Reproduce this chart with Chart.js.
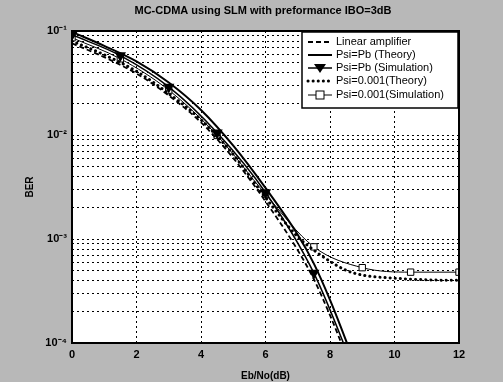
<!DOCTYPE html>
<html>
<head>
<meta charset="utf-8">
<script src="https://cdn.jsdelivr.net/npm/chart.js@4"></script>
<style>
    html, body { margin: 0; padding: 0; background: #b8b8b8; }
    #wrap { width: 503px; height: 382px; background: #b8b8b8; }
    canvas { background: #b8b8b8; }
</style>
</head>
<body>
<div id="wrap"><canvas id="berChart" width="503" height="382"></canvas></div>
<script>
const chartTitle = 'MC-CDMA using SLM with preformance IBO=3dB';
const seriesLabels = [
    'Linear amplifier', 'Psi=Pb (Theory)', 'Psi=Pb (Simulation)',
    'Psi=0.001(Theory)', 'Psi=0.001(Simulation)'
];

// Eb/No (dB) positions
const ebnoTheory = [0, 1, 2, 3, 4, 5, 6, 7, 7.5, 8, 8.5, 9];
const ebnoTheoryLong = [0, 1, 2, 3, 4, 5, 6, 7, 7.5, 8, 8.5, 9, 10, 11, 12];
const ebnoSimPb = [0, 1.5, 3, 4.5, 6, 7.5, 9];
const ebnoSim001 = [0, 1.5, 3, 4.5, 6, 7.5, 9, 10.5, 12];

// BER values
const berLinear = [0.076, 0.056, 0.039, 0.024, 0.0132, 0.006, 0.0023, 7.8e-4, 4.1e-4, 1.85e-4, 7.6e-5, 3e-5];
const berPbTheory = [0.098, 0.072, 0.051, 0.032, 0.0174, 0.0079, 0.0031, 1.1e-3, 5.8e-4, 2.6e-4, 1.05e-4, 4e-5];
const berPbSim = [0.092, 0.058, 0.029, 0.0105, 0.0028, 4.7e-4, 3.5e-5];
const ber001Theory = [0.08, 0.059, 0.041, 0.025, 0.014, 0.0065, 0.0025, 1.05e-3, 7.8e-4, 6.1e-4, 5.0e-4, 4.5e-4, 4.2e-4, 4.05e-4, 4.0e-4];
const ber001Sim = [0.086, 0.054, 0.027, 0.0099, 0.0027, 8.4e-4, 5.3e-4, 4.8e-4, 4.8e-4];

const xTicks = [0, 2, 4, 6, 8, 10, 12];
const yDecades = [1e-4, 1e-3, 1e-2, 1e-1];
const yDecadeLabels = ['10⁻⁴', '10⁻³', '10⁻²', '10⁻¹'];

function pts(xs, ys) {
    return xs.map((x, i) => ({ x: x, y: ys[i] }));
}

const font = 'Arial, "Liberation Sans", sans-serif';

const frameAndLegend = {
    id: 'frameAndLegend',
    beforeDatasetsDraw(chart) {
        // nothing, grid already drawn on white area below
    },
    beforeDraw(chart) {
        const c = chart.ctx;
        const a = chart.chartArea;
        c.save();
        c.globalCompositeOperation = 'source-over';
        c.fillStyle = 'rgb(184,184,184)';
        c.fillRect(0, 0, chart.width, chart.height);
        c.fillStyle = 'rgb(255,255,255)';
        c.fillRect(a.left, a.top, a.right - a.left, a.bottom - a.top);
        c.fillStyle = '#000';
        c.font = 'bold 11px ' + font;
        c.textAlign = 'center';
        c.textBaseline = 'middle';
        c.fillText(chartTitle, 263, 11);
        c.restore();
    },
    afterDraw(chart) {
        const c = chart.ctx;
        const a = chart.chartArea;
        c.save();
        c.strokeStyle = '#000';
        c.lineWidth = 2;
        c.strokeRect(a.left, a.top, a.right - a.left, a.bottom - a.top);

        // legend box
        const bx = 302, by = 32, bw = 156, bh = 76;
        c.fillStyle = '#fff';
        c.fillRect(bx, by, bw, bh);
        c.lineWidth = 1.5;
        c.strokeRect(bx, by, bw, bh);
        const rowY = [42, 55, 68, 81, 95];
        c.font = '11px ' + font;
        c.textBaseline = 'middle';
        chart.data.datasets.forEach((ds, i) => {
            const y = rowY[i];
            c.strokeStyle = '#000';
            c.lineWidth = ds.borderWidth;
            c.setLineDash(ds.borderDash || []);
            c.lineCap = ds.borderCapStyle || 'butt';
            c.beginPath();
            c.moveTo(308, y);
            c.lineTo(332, y);
            c.stroke();
            c.setLineDash([]);
            if (ds.pointStyle === 'triangle') {
                c.fillStyle = '#000';
                c.beginPath();
                c.moveTo(314, y - 4);
                c.lineTo(326, y - 4);
                c.lineTo(320, y + 5);
                c.closePath();
                c.fill();
            } else if (ds.pointStyle === 'rect') {
                c.fillStyle = '#fff';
                c.lineWidth = 1;
                c.fillRect(316, y - 4, 8, 8);
                c.strokeRect(316, y - 4, 8, 8);
            }
            c.fillStyle = '#000';
            c.fillText(ds.label, 336, y);
        });
        c.restore();
    }
};

const ctx = document.getElementById('berChart').getContext('2d');
new Chart(ctx, {
    type: 'line',
    data: {
        datasets: [
            {
                label: seriesLabels[0],
                data: pts(ebnoTheory, berLinear),
                borderColor: '#000', borderWidth: 1.8, borderDash: [5, 3],
                pointRadius: 0, cubicInterpolationMode: 'monotone'
            },
            {
                label: seriesLabels[1],
                data: pts(ebnoTheory, berPbTheory),
                borderColor: '#000', borderWidth: 2,
                pointRadius: 0, cubicInterpolationMode: 'monotone'
            },
            {
                label: seriesLabels[2],
                data: pts(ebnoSimPb, berPbSim),
                borderColor: '#000', borderWidth: 1.5,
                pointStyle: 'triangle', rotation: 180, pointRadius: 5,
                pointBackgroundColor: '#000', pointBorderColor: '#000',
                cubicInterpolationMode: 'monotone'
            },
            {
                label: seriesLabels[3],
                data: pts(ebnoTheoryLong, ber001Theory),
                borderColor: '#000', borderWidth: 3, borderDash: [0.1, 5], borderCapStyle: 'round',
                pointRadius: 0, cubicInterpolationMode: 'monotone'
            },
            {
                label: seriesLabels[4],
                data: pts(ebnoSim001, ber001Sim),
                borderColor: '#000', borderWidth: 1,
                pointStyle: 'rect', pointRadius: 4.5,
                pointBackgroundColor: '#fff', pointBorderColor: '#000', pointBorderWidth: 1,
                cubicInterpolationMode: 'monotone'
            }
        ]
    },
    options: {
        responsive: false,
        animation: false,
        layout: { padding: { top: 31, right: 44, bottom: 0, left: 24 } },
        plugins: {
            legend: { display: false },
            tooltip: { enabled: false },
            title: { display: false }
        },
        scales: {
            x: {
                type: 'linear', min: 0, max: 12,
                afterBuildTicks: (s) => { s.ticks = xTicks.map(v => ({ value: v })); },
                afterFit: (s) => { s.height = 39; },
                grid: { color: '#000', lineWidth: 1, drawTicks: false },
                border: { display: false, dash: [2, 3] },
                ticks: { color: '#000', padding: 5, font: { family: font, size: 11, weight: 'bold' } },
                title: { display: true, text: 'Eb/No(dB)', color: '#000', padding: 0,
                         font: { family: font, size: 10, weight: 'bold' } }
            },
            y: {
                type: 'logarithmic', min: 1e-4, max: 1e-1,
                afterBuildTicks: (s) => {
                    const t = [];
                    yDecades.forEach((d, i) => {
                        if (i === yDecades.length - 1) { t.push({ value: d }); return; }
                        for (let m = 1; m <= 9; m++) t.push({ value: d * m });
                    });
                    s.ticks = t;
                },
                afterFit: (s) => { s.width = 48; },
                grid: { color: '#000', lineWidth: 1, drawTicks: false },
                border: { display: false, dash: [2, 3] },
                ticks: {
                    autoSkip: false, color: '#000', padding: 5,
                    font: { family: font, size: 11, weight: 'bold' },
                    callback: (v) => {
                        const i = yDecades.findIndex(d => Math.abs(d - v) / d < 1e-6);
                        return i >= 0 ? yDecadeLabels[i] : '';
                    }
                },
                title: { display: true, text: 'BER', color: '#000', padding: 0,
                         font: { family: font, size: 10, weight: 'bold' } }
            }
        }
    },
    plugins: [frameAndLegend]
});
</script>
</body>
</html>
